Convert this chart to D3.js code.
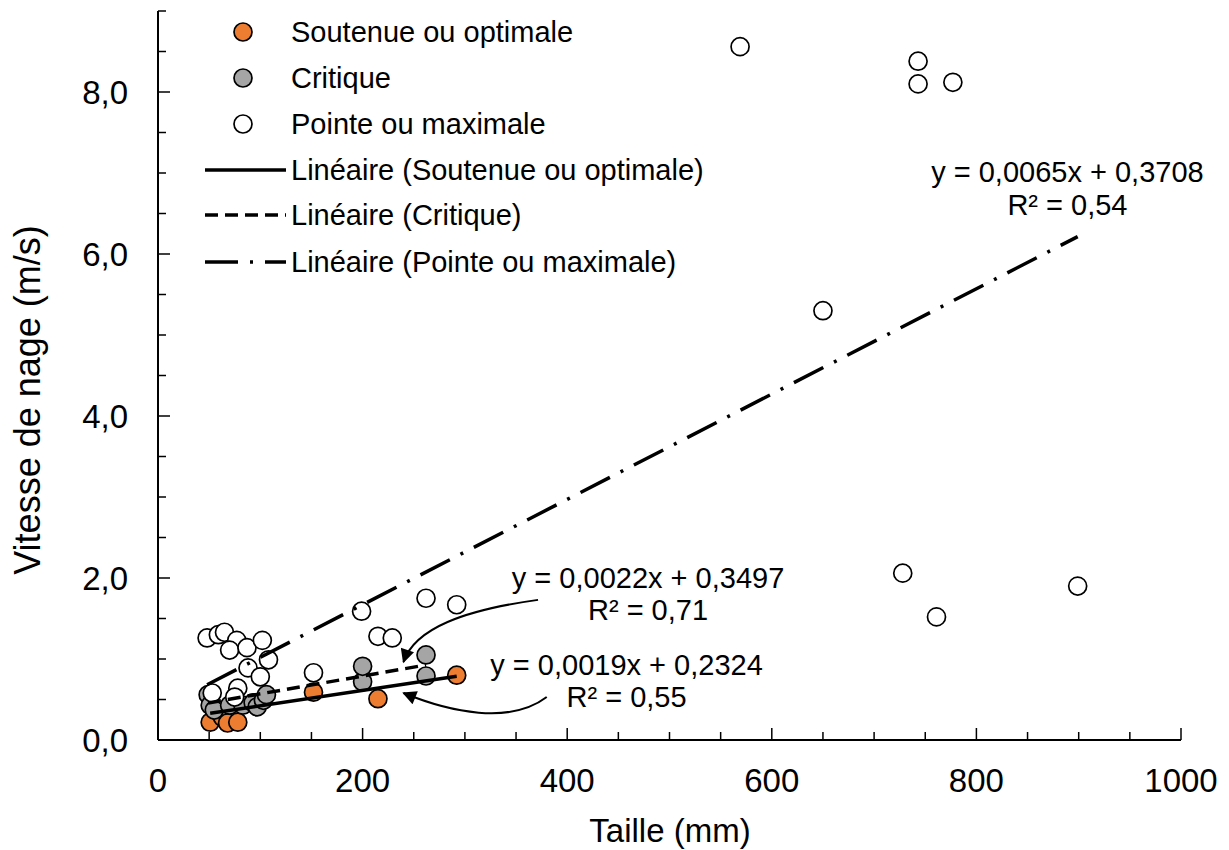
<!DOCTYPE html>
<html>
<head>
<meta charset="utf-8">
<script src="https://cdn.jsdelivr.net/npm/d3@7"></script>
<style>
  body { margin: 0; background: #fff; }
  text { font-family: "Liberation Sans", Arial, sans-serif; fill: #000; }
</style>
</head>
<body>
<svg id="chart" width="1229" height="850"></svg>
<script>
// series: taille (mm) / vitesse (m/s)
const seriesNames = ["Soutenue ou optimale", "Critique", "Pointe ou maximale"];
const seriesColors = ["#ED7D31", "#A5A5A5", "#FFFFFF"];

const tailleSoutenue = [51, 60, 63, 68, 78, 152, 215, 292];
const vitesseSoutenue = [0.22, 0.34, 0.28, 0.21, 0.22, 0.59, 0.51, 0.80];

const tailleCritique = [49, 51, 55, 70, 83, 93, 97, 103, 106, 200, 200, 262, 262];
const vitesseCritique = [0.56, 0.43, 0.37, 0.43, 0.43, 0.46, 0.41, 0.49, 0.56, 0.72, 0.91, 0.79, 1.05];

const taillePointe = [48, 59, 65, 77, 70, 87, 102, 108, 88, 100, 53, 78, 75,
    152, 199, 215, 229, 262, 292, 569, 650, 728, 743, 743, 761, 777, 899];
const vitessePointe = [1.26, 1.30, 1.33, 1.23, 1.11, 1.14, 1.23, 0.99, 0.89, 0.78, 0.58, 0.64, 0.53,
    0.83, 1.59, 1.28, 1.26, 1.75, 1.67, 8.56, 5.30, 2.06, 8.38, 8.10, 1.52, 8.12, 1.90];

// trend lines (from the equations shown on the chart)
const trendSlopes = [0.0019, 0.0022, 0.0065];
const trendIntercepts = [0.2324, 0.3497, 0.3708];
const trendLabels = [
    ["y = 0,0019x + 0,2324", "R² = 0,55"],
    ["y = 0,0022x + 0,3497", "R² = 0,71"],
    ["y = 0,0065x + 0,3708", "R² = 0,54"]
];
// label anchors in data units [x, y of first line, y of second line]
const labelAnchors = [[458, 0.93, 0.53], [479, 2.0, 1.6], [889, 7.01, 6.6]];

// arrows (data units): start, control1, control2, end
const arrows = [
    [[380, 0.53], [344, 0.185], [285, 0.346], [240, 0.58]],
    [[371.5, 1.73], [300, 1.605], [251, 1.383], [240, 0.963]]
];

const xTicks = [0, 200, 400, 600, 800, 1000];
const yTicks = [0, 2, 4, 6, 8];

const svg = d3.select("#chart");

const x = d3.scaleLinear().domain([0, 1000]).range([158, 1181]);
const y = d3.scaleLinear().domain([0, 9]).range([740, 11]);

const R = 9;

const series = [
    { taille: tailleSoutenue, vitesse: vitesseSoutenue },
    { taille: tailleCritique, vitesse: vitesseCritique },
    { taille: taillePointe, vitesse: vitessePointe }
];

// markers
series.forEach((s, i) => {
    svg.append("g")
        .selectAll("circle")
        .data(s.taille.map((t, j) => [t, s.vitesse[j]]))
        .join("circle")
        .attr("cx", d => x(d[0]))
        .attr("cy", d => y(d[1]))
        .attr("r", R)
        .attr("fill", seriesColors[i])
        .attr("stroke", "#000")
        .attr("stroke-width", 1.7);
});

// trend lines
const dashes = [null, "13,7", "33,12,3,12"];
series.forEach((s, i) => {
    const x0 = d3.min(s.taille), x1 = d3.max(s.taille);
    svg.append("line")
        .attr("x1", x(x0))
        .attr("y1", y(trendSlopes[i] * x0 + trendIntercepts[i]))
        .attr("x2", x(x1))
        .attr("y2", y(trendSlopes[i] * x1 + trendIntercepts[i]))
        .attr("stroke", "#000")
        .attr("stroke-width", 3.5)
        .attr("stroke-dasharray", dashes[i]);
});

// axes
const xAxis = svg.append("g");
xAxis.append("line")
    .attr("x1", x(0)).attr("x2", x(1000))
    .attr("y1", y(0)).attr("y2", y(0))
    .attr("stroke", "#000").attr("stroke-width", 2);
xAxis.selectAll(".tk")
    .data(d3.range(0, 1001, 50))
    .join("line")
    .attr("x1", d => x(d)).attr("x2", d => x(d))
    .attr("y1", y(0)).attr("y2", d => y(0) - (d % 200 === 0 ? 12 : 8))
    .attr("stroke", "#000").attr("stroke-width", 1.5);
xAxis.selectAll("text")
    .data(xTicks)
    .join("text")
    .attr("x", d => x(d))
    .attr("y", 780)
    .attr("text-anchor", "middle")
    .attr("dominant-baseline", "central")
    .style("font-size", "33px")
    .text(d => d);

const yAxis = svg.append("g");
yAxis.append("line")
    .attr("x1", x(0)).attr("x2", x(0))
    .attr("y1", y(0)).attr("y2", y(9))
    .attr("stroke", "#000").attr("stroke-width", 2);
yAxis.selectAll(".tk")
    .data(d3.range(0, 9.01, 0.5))
    .join("line")
    .attr("x1", x(0)).attr("x2", d => x(0) + (d % 2 === 0 ? 12 : 8))
    .attr("y1", d => y(d)).attr("y2", d => y(d))
    .attr("stroke", "#000").attr("stroke-width", 1.5);
yAxis.selectAll("text")
    .data(yTicks)
    .join("text")
    .attr("x", 128)
    .attr("y", d => y(d))
    .attr("text-anchor", "end")
    .attr("dominant-baseline", "central")
    .style("font-size", "33px")
    .text(d => d3.format(".1f")(d).replace(".", ","));

// axis titles
svg.append("text")
    .attr("x", 670).attr("y", 830)
    .attr("text-anchor", "middle")
    .attr("dominant-baseline", "central")
    .style("font-size", "33px")
    .text("Taille (mm)");

svg.append("text")
    .attr("transform", "translate(27,400) rotate(-90)")
    .attr("text-anchor", "middle")
    .attr("dominant-baseline", "central")
    .style("font-size", "36px")
    .text("Vitesse de nage (m/s)");

// equation labels
trendLabels.forEach((lines, i) => {
    const a = labelAnchors[i];
    lines.forEach((t, k) => {
        svg.append("text")
            .attr("x", x(a[0]))
            .attr("y", y(a[k + 1]))
            .attr("text-anchor", "middle")
            .attr("dominant-baseline", "central")
            .style("font-size", "29px")
            .text(t);
    });
});

// arrows
svg.append("defs").append("marker")
    .attr("id", "head")
    .attr("viewBox", "0 0 10 10")
    .attr("refX", 9).attr("refY", 5)
    .attr("markerWidth", 16).attr("markerHeight", 14)
    .attr("markerUnits", "userSpaceOnUse")
    .attr("orient", "auto")
    .append("path")
    .attr("d", "M0,0 L10,5 L0,10 Z")
    .attr("fill", "#000");

svg.selectAll(".arrow")
    .data(arrows)
    .join("path")
    .attr("class", "arrow")
    .attr("d", d => {
        const p = d.map(q => [x(q[0]), y(q[1])]);
        return `M${p[0]} C${p[1]} ${p[2]} ${p[3]}`;
    })
    .attr("fill", "none")
    .attr("stroke", "#000")
    .attr("stroke-width", 2)
    .attr("marker-end", "url(#head)");

// legend
const legend = svg.append("g");
const rowY = [32, 78, 124, 170, 215, 262];

seriesNames.forEach((name, i) => {
    legend.append("circle")
        .attr("cx", 243).attr("cy", rowY[i])
        .attr("r", R)
        .attr("fill", seriesColors[i])
        .attr("stroke", "#000")
        .attr("stroke-width", 1.7);
    legend.append("text")
        .attr("x", 291).attr("y", rowY[i])
        .attr("dominant-baseline", "central")
        .style("font-size", "29px")
        .text(name);
});

seriesNames.forEach((name, i) => {
    legend.append("line")
        .attr("x1", 205).attr("x2", 286)
        .attr("y1", rowY[i + 3]).attr("y2", rowY[i + 3])
        .attr("stroke", "#000")
        .attr("stroke-width", 3.5)
        .attr("stroke-dasharray", dashes[i]);
    legend.append("text")
        .attr("x", 291).attr("y", rowY[i + 3])
        .attr("dominant-baseline", "central")
        .style("font-size", "29px")
        .text(`Linéaire (${name})`);
});
</script>
</body>
</html>
